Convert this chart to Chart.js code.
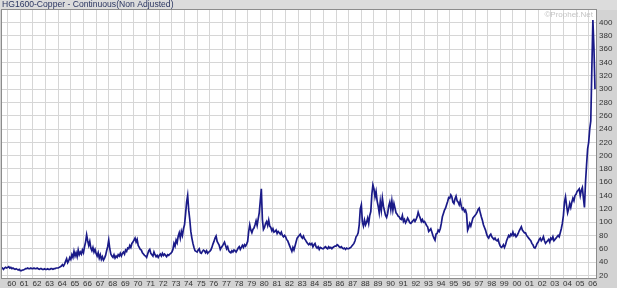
<!DOCTYPE html>
<html>
<head>
<meta charset="utf-8">
<title>HG1600-Copper</title>
<script src="https://cdn.jsdelivr.net/npm/chart.js@4.4.1/dist/chart.umd.min.js"></script>
<style>
  html, body { margin: 0; padding: 0; background: #d3d3d3; }
  canvas { display: block; }
</style>
</head>
<body>
<canvas id="chart" width="617" height="288"></canvas>
<script>
// monthly closes, cents per lb
const startYear = 1959.5
const prices59 = [30, 31, 29, 31, 32, 31]
const prices60s = [
  32, 33, 31, 32, 30, 31, 30, 29, 30, 29, 28, 29,
  27, 27, 28, 28, 29, 30, 30, 31, 30, 30, 31, 30,
  30, 31, 30, 30, 31, 30, 29, 30, 30, 29, 29, 30,
  29, 29, 30, 29, 29, 30, 30, 29, 30, 30, 31, 31,
  31, 32, 33, 34, 36, 34, 37, 41, 45, 39, 42, 47,
  44, 51, 47, 56, 49, 54, 48, 58, 51, 55, 52, 58,
  54, 63, 70, 81, 72, 65, 71, 61, 57, 62, 55, 59,
  53, 49, 54, 46, 51, 44, 48, 43, 46, 50, 57, 63,
  73, 60, 52, 49, 47, 51, 46, 49, 47, 51, 49, 53,
  49, 53, 55, 52, 58, 56, 61, 60, 65, 62, 68, 70,
]
const prices70s = [
  73, 76, 70, 74, 65, 62, 59, 58, 54, 52, 50, 49,
  47, 52, 57, 59, 53, 51, 49, 55, 51, 48, 50, 47,
  50, 52, 49, 53, 50, 52, 50, 48, 51, 50, 52, 53,
  55, 59, 68, 64, 73, 69, 79, 84, 76, 86, 80, 90,
  96, 112, 130, 140, 118, 104, 86, 76, 68, 62, 57, 56,
  55, 58, 60, 54, 53, 56, 58, 57, 54, 57, 53, 55,
  56, 58, 62, 67, 71, 76, 79, 71, 68, 65, 59, 62,
  64, 67, 70, 65, 60, 63, 57, 55, 54, 57, 55, 58,
  57, 55, 58, 61, 63, 59, 62, 65, 62, 66, 64, 67,
  71, 86, 96, 88, 84, 89, 91, 96, 102, 95, 105, 114,
]
const prices80s = [
  132, 150, 104, 89, 92, 98, 101, 95, 103, 94, 92, 87,
  90, 85, 86, 88, 83, 86, 84, 82, 85, 80, 78, 80,
  78, 74, 72, 68, 64, 60, 56, 62, 58, 64, 70, 76,
  78, 80, 82, 78, 76, 79, 75, 73, 70, 68, 66, 68,
  66, 68, 63, 66, 68, 63, 61, 63, 59, 62, 61, 60,
  60, 62, 63, 61, 60, 63, 61, 62, 60, 62, 63, 64,
  64, 66, 65, 63, 62, 63, 61, 60, 61, 59, 61, 60,
  60, 61, 62, 64, 66, 68, 72, 78, 80, 84, 96, 120,
  126, 100, 94, 103, 96, 100, 106, 98, 110, 116, 142, 156,
  150, 138, 146, 132, 124, 114, 131, 118, 136, 124, 117, 110,
]
const prices90s = [
  107, 113, 124, 130, 119, 132, 118, 128, 121, 114, 112, 109,
  108, 105, 104, 110, 101, 104, 99, 102, 106, 103, 99, 98,
  100, 102, 104, 101, 104, 108, 115, 110, 106, 101, 104, 100,
  101, 98, 95, 93, 86, 88, 90, 85, 80, 76, 73, 82,
  83, 88, 86, 90, 98, 108, 113, 118, 121, 126, 131, 137,
  136, 141, 138, 130, 128, 135, 139, 132, 130, 126, 132, 124,
  119, 121, 116, 118, 112, 88, 92, 98, 94, 100, 106, 108,
  110, 112, 115, 119, 121, 114, 108, 103, 96, 92, 88, 82,
  78, 76, 80, 82, 78, 76, 74, 76, 73, 72, 74, 68,
  64, 62, 63, 66, 62, 66, 72, 76, 80, 78, 82, 80,
]
const prices00s = [
  85, 80, 82, 78, 80, 83, 87, 90, 93, 88, 86, 84,
  84, 80, 78, 76, 74, 72, 68, 66, 62, 61, 64, 68,
  70, 74, 76, 72, 74, 78, 72, 68, 70, 72, 74, 70,
  76, 74, 78, 72, 74, 76, 78, 80, 78, 84, 90, 98,
  110, 130, 138, 125, 114, 120, 128, 122, 130, 136, 132, 140,
  142, 146, 148, 150, 140, 148, 152, 136, 122, 160, 186, 210,
  220, 240, 252, 330, 404, 362, 300,
]
const firstYear = 1960
const lastYear = 2006
const yTicks = [20, 40, 60, 80, 100, 120, 140, 160, 180, 200, 220, 240, 260, 280, 300, 320, 340, 360, 380, 400]

const prices = [...prices59, ...prices60s, ...prices70s, ...prices80s, ...prices90s, ...prices00s]
const points = prices.map((v, i) => ({ x: startYear + i / 12, y: v }))

const years = []
for (let y = firstYear; y <= lastYear; y++) years.push(y)

const FONT = "'Liberation Sans', Arial, sans-serif"

const frame = {
  id: 'frame',
  beforeDraw(chart) {
    const { ctx, chartArea: a } = chart
    ctx.save()
    ctx.fillStyle = '#d3d3d3'
    ctx.fillRect(0, 0, chart.width, chart.height)
    ctx.fillStyle = '#dcdcdc'
    ctx.fillRect(0, 0, chart.width, a.top)
    ctx.fillStyle = '#ffffff'
    ctx.fillRect(a.left, a.top, a.right - a.left, a.bottom - a.top)
    ctx.restore()
  },
  afterDraw(chart) {
    const { ctx, chartArea: a } = chart
    ctx.save()
    ctx.strokeStyle = '#8c8c8c'
    ctx.lineWidth = 1
    ctx.strokeRect(a.left - 0.5, a.top - 0.5, a.right - a.left + 1, a.bottom - a.top + 1)
    ctx.fillStyle = '#c4c4c4'
    ctx.font = '8px ' + FONT
    ctx.textAlign = 'right'
    ctx.textBaseline = 'middle'
    ctx.fillText('©Prophet.Net', a.right - 3, a.top + 5)
    ctx.restore()
  },
}

new Chart(document.getElementById('chart'), {
  type: 'line',
  data: {
    datasets: [
      {
        data: points,
        borderColor: '#1a1a88',
        borderWidth: 1.7,
        pointRadius: 0,
        tension: 0,
      },
    ],
  },
  options: {
    responsive: false,
    animation: false,
    layout: { padding: { left: 2, right: 0, top: 0, bottom: 0 } },
    plugins: {
      legend: { display: false },
      tooltip: { enabled: false },
      title: {
        display: true,
        text: 'HG1600-Copper - Continuous(Non Adjusted)',
        align: 'start',
        color: '#2a3560',
        font: { family: FONT, size: 8.6, weight: 'normal', lineHeight: 1 },
        padding: { top: 0.7, bottom: 0.7 },
      },
    },
    scales: {
      x: {
        type: 'linear',
        min: 1959.55,
        max: 2006.58,
        afterBuildTicks: (axis) => {
          axis.ticks = years.map((v) => ({ value: v }))
        },
        afterFit: (s) => {
          s.height = 10
          s.paddingLeft = 0
          s.paddingRight = 0
        },
        grid: { color: '#d6d6d6', drawTicks: false },
        border: { display: false },
        ticks: {
          autoSkip: false,
          maxRotation: 0,
          padding: 1,
          labelOffset: 4,
          color: '#333333',
          font: { family: FONT, size: 8 },
          callback: (v) => String(v).slice(2),
        },
      },
      y: {
        position: 'right',
        min: 16,
        max: 419,
        afterBuildTicks: (axis) => {
          axis.ticks = yTicks.map((v) => ({ value: v }))
        },
        afterFit: (s) => {
          s.width = 21
          s.paddingTop = 0
          s.paddingBottom = 0
        },
        grid: { color: '#d6d6d6', drawTicks: false },
        border: { display: false },
        ticks: {
          padding: 3,
          color: '#333333',
          font: { family: FONT, size: 8 },
        },
      },
    },
  },
  plugins: [frame],
})
</script>
</body>
</html>
